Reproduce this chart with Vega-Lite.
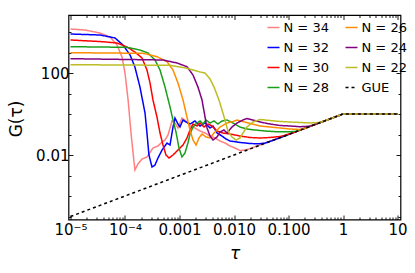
{
  "$schema": "https://vega.github.io/schema/vega-lite/v6.json",
  "width": 332,
  "height": 204.5,
  "autosize": {"type": "none"},
  "padding": {"left": 68.5, "top": 15, "right": 14.5, "bottom": 53.5},
  "config": {
    "font": "DejaVu Sans",
    "view": {"stroke": "black", "strokeWidth": 1.2},
    "legend": {"orient": "none", "legendX": 198, "legendY": 5.5, "columns": 2, "columnPadding": 13, "rowPadding": 6, "symbolType": "stroke", "symbolSize": 144, "symbolStrokeWidth": 1.5, "labelFontSize": 13, "labelOffset": 3, "labelColor": "black", "padding": 0}
  },
  "resolve": {"axis": {"x": "independent", "y": "independent"}},
  "layer": [
    {
      "data": {"values": [
        {"series":"N = 34","tau":1e-5,"G":14000},{"series":"N = 34","tau":1.85e-5,"G":12500},{"series":"N = 34","tau":3.47e-5,"G":8930},{"series":"N = 34","tau":5.31e-5,"G":5700},{"series":"N = 34","tau":7.13e-5,"G":2320},{"series":"N = 34","tau":8.81e-5,"G":603},{"series":"N = 34","tau":1.0e-4,"G":100},{"series":"N = 34","tau":1.14e-4,"G":4.82},{"series":"N = 34","tau":1.29e-4,"G":0.118},{"series":"N = 34","tau":1.40e-4,"G":0.014},{"series":"N = 34","tau":1.52e-4,"G":0.00185},{"series":"N = 34","tau":1.73e-4,"G":0.00364},{"series":"N = 34","tau":2.05e-4,"G":0.00638},{"series":"N = 34","tau":2.53e-4,"G":0.00798},{"series":"N = 34","tau":3.26e-4,"G":0.0219},{"series":"N = 34","tau":4.03e-4,"G":0.0275},{"series":"N = 34","tau":4.58e-4,"G":0.0385},{"series":"N = 34","tau":5.42e-4,"G":0.0539},{"series":"N = 34","tau":6.15e-4,"G":0.0946},{"series":"N = 34","tau":6.70e-4,"G":0.208},{"series":"N = 34","tau":7.28e-4,"G":0.456},{"series":"N = 34","tau":8.26e-4,"G":0.364},{"series":"N = 34","tau":9.38e-4,"G":0.208},{"series":"N = 34","tau":1.11e-3,"G":0.638},{"series":"N = 34","tau":1.32e-3,"G":0.456},{"series":"N = 34","tau":1.56e-3,"G":0.26},{"series":"N = 34","tau":1.92e-3,"G":0.208},{"series":"N = 34","tau":2.38e-3,"G":0.148},{"series":"N = 34","tau":2.94e-3,"G":0.118},{"series":"N = 34","tau":3.63e-3,"G":0.0845},{"series":"N = 34","tau":4.48e-3,"G":0.0675},{"series":"N = 34","tau":5.53e-3,"G":0.0482},{"series":"N = 34","tau":6.84e-3,"G":0.0385},{"series":"N = 34","tau":8.45e-3,"G":0.0275},{"series":"N = 34","tau":1.04e-2,"G":0.0219},{"series":"N = 34","tau":1.29e-2,"G":0.0166},{"series":"N = 34","tau":1.59e-2,"G":0.0175},{"series":"N = 34","tau":1.97e-2,"G":0.0205},{"series":"N = 34","tau":0.03,"G":0.031},{"series":"N = 34","tau":0.05,"G":0.051},{"series":"N = 34","tau":0.08,"G":0.081},{"series":"N = 34","tau":0.12,"G":0.122},{"series":"N = 34","tau":0.2,"G":0.2},{"series":"N = 34","tau":0.35,"G":0.355},{"series":"N = 34","tau":0.6,"G":0.6},{"series":"N = 34","tau":1,"G":1},{"series":"N = 34","tau":1.5,"G":1.02},{"series":"N = 34","tau":2.5,"G":0.98},{"series":"N = 34","tau":4,"G":1.01},{"series":"N = 34","tau":6,"G":0.99},{"series":"N = 34","tau":10,"G":1.0},

        {"series":"N = 32","tau":1e-5,"G":7980},{"series":"N = 32","tau":3.47e-5,"G":7140},{"series":"N = 32","tau":6.56e-5,"G":5100},{"series":"N = 32","tau":9.19e-5,"G":2320},{"series":"N = 32","tau":1.24e-4,"G":755},{"series":"N = 32","tau":1.52e-4,"G":196},{"series":"N = 32","tau":1.88e-4,"G":20.8},{"series":"N = 32","tau":2.33e-4,"G":1.12},{"series":"N = 32","tau":2.53e-4,"G":0.118},{"series":"N = 32","tau":2.75e-4,"G":0.01},{"series":"N = 32","tau":3.13e-4,"G":0.0026},{"series":"N = 32","tau":3.55e-4,"G":0.00325},{"series":"N = 32","tau":4.03e-4,"G":0.00714},{"series":"N = 32","tau":4.78e-4,"G":0.0175},{"series":"N = 32","tau":5.90e-4,"G":0.0385},{"series":"N = 32","tau":6.70e-4,"G":0.0308},{"series":"N = 32","tau":7.60e-4,"G":0.232},{"series":"N = 32","tau":8.26e-4,"G":0.638},{"series":"N = 32","tau":9.38e-4,"G":0.325},{"series":"N = 32","tau":1.02e-3,"G":0.232},{"series":"N = 32","tau":1.16e-3,"G":0.51},{"series":"N = 32","tau":1.32e-3,"G":0.407},{"series":"N = 32","tau":1.56e-3,"G":0.325},{"series":"N = 32","tau":1.92e-3,"G":0.456},{"series":"N = 32","tau":2.38e-3,"G":0.26},{"series":"N = 32","tau":2.94e-3,"G":0.364},{"series":"N = 32","tau":3.63e-3,"G":0.208},{"series":"N = 32","tau":4.12e-3,"G":0.26},{"series":"N = 32","tau":4.88e-3,"G":0.118},{"series":"N = 32","tau":6.02e-3,"G":0.0845},{"series":"N = 32","tau":7.13e-3,"G":0.0603},{"series":"N = 32","tau":8.45e-3,"G":0.0482},{"series":"N = 32","tau":1.29e-2,"G":0.041},{"series":"N = 32","tau":1.97e-2,"G":0.0364},{"series":"N = 32","tau":2.75e-2,"G":0.035},{"series":"N = 32","tau":3.71e-2,"G":0.038},{"series":"N = 32","tau":0.05,"G":0.05},{"series":"N = 32","tau":0.08,"G":0.079},{"series":"N = 32","tau":0.12,"G":0.12},{"series":"N = 32","tau":0.2,"G":0.203},{"series":"N = 32","tau":0.35,"G":0.35},{"series":"N = 32","tau":0.6,"G":0.605},{"series":"N = 32","tau":1,"G":1},{"series":"N = 32","tau":1.5,"G":0.99},{"series":"N = 32","tau":2.5,"G":1.02},{"series":"N = 32","tau":4,"G":0.99},{"series":"N = 32","tau":6,"G":1.01},{"series":"N = 32","tau":10,"G":1.0},

        {"series":"N = 30","tau":1e-5,"G":4070},{"series":"N = 30","tau":3.95e-5,"G":3360},{"series":"N = 30","tau":7.13e-5,"G":2900},{"series":"N = 30","tau":1.09e-4,"G":1850},{"series":"N = 30","tau":1.52e-4,"G":1060},{"series":"N = 30","tau":2.05e-4,"G":540},{"series":"N = 30","tau":2.53e-4,"G":140},{"series":"N = 30","tau":2.88e-4,"G":32.5},{"series":"N = 30","tau":3.26e-4,"G":4.82},{"series":"N = 30","tau":3.86e-4,"G":0.714},{"series":"N = 30","tau":4.39e-4,"G":0.118},{"series":"N = 30","tau":4.98e-4,"G":0.0308},{"series":"N = 30","tau":5.65e-4,"G":0.01},{"series":"N = 30","tau":6.41e-4,"G":0.00714},{"series":"N = 30","tau":7.60e-4,"G":0.01},{"series":"N = 30","tau":9.38e-4,"G":0.0175},{"series":"N = 30","tau":1.16e-3,"G":0.0308},{"series":"N = 30","tau":1.37e-3,"G":0.0675},{"series":"N = 30","tau":1.56e-3,"G":0.166},{"series":"N = 30","tau":1.77e-3,"G":0.325},{"series":"N = 30","tau":2.09e-3,"G":0.26},{"series":"N = 30","tau":2.38e-3,"G":0.364},{"series":"N = 30","tau":2.82e-3,"G":0.232},{"series":"N = 30","tau":3.34e-3,"G":0.325},{"series":"N = 30","tau":3.95e-3,"G":0.26},{"series":"N = 30","tau":4.88e-3,"G":0.148},{"series":"N = 30","tau":6.28e-3,"G":0.118},{"series":"N = 30","tau":8.45e-3,"G":0.106},{"series":"N = 30","tau":1.29e-2,"G":0.0845},{"series":"N = 30","tau":1.97e-2,"G":0.0714},{"series":"N = 30","tau":0.03,"G":0.0675},{"series":"N = 30","tau":4.58e-2,"G":0.0714},{"series":"N = 30","tau":6.98e-2,"G":0.0798},{"series":"N = 30","tau":0.107,"G":0.108},{"series":"N = 30","tau":0.2,"G":0.198},{"series":"N = 30","tau":0.35,"G":0.352},{"series":"N = 30","tau":0.6,"G":0.6},{"series":"N = 30","tau":1,"G":1},{"series":"N = 30","tau":1.5,"G":1.01},{"series":"N = 30","tau":2.5,"G":0.99},{"series":"N = 30","tau":4,"G":1.02},{"series":"N = 30","tau":6,"G":0.98},{"series":"N = 30","tau":10,"G":1.0},

        {"series":"N = 28","tau":1e-5,"G":1920},{"series":"N = 28","tau":1.09e-4,"G":1790},{"series":"N = 28","tau":1.88e-4,"G":1320},{"series":"N = 28","tau":2.64e-4,"G":946},{"series":"N = 28","tau":3.55e-4,"G":431},{"series":"N = 28","tau":4.39e-4,"G":140},{"series":"N = 28","tau":5.42e-4,"G":20.8},{"series":"N = 28","tau":6.70e-4,"G":2.2},{"series":"N = 28","tau":7.60e-4,"G":0.51},{"series":"N = 28","tau":8.63e-4,"G":0.132},{"series":"N = 28","tau":9.79e-4,"G":0.0219},{"series":"N = 28","tau":1.11e-3,"G":0.00798},{"series":"N = 28","tau":1.26e-3,"G":0.0125},{"series":"N = 28","tau":1.43e-3,"G":0.0385},{"series":"N = 28","tau":1.56e-3,"G":0.106},{"series":"N = 28","tau":1.77e-3,"G":0.232},{"series":"N = 28","tau":2.09e-3,"G":0.364},{"series":"N = 28","tau":2.38e-3,"G":0.456},{"series":"N = 28","tau":2.70e-3,"G":0.325},{"series":"N = 28","tau":3.06e-3,"G":0.51},{"series":"N = 28","tau":3.63e-3,"G":0.364},{"series":"N = 28","tau":4.30e-3,"G":0.456},{"series":"N = 28","tau":5.08e-3,"G":0.325},{"series":"N = 28","tau":6.02e-3,"G":0.456},{"series":"N = 28","tau":7.44e-3,"G":0.51},{"series":"N = 28","tau":9.59e-3,"G":0.364},{"series":"N = 28","tau":1.29e-2,"G":0.232},{"series":"N = 28","tau":1.73e-2,"G":0.185},{"series":"N = 28","tau":2.43e-2,"G":0.166},{"series":"N = 28","tau":3.71e-2,"G":0.148},{"series":"N = 28","tau":5.65e-2,"G":0.138},{"series":"N = 28","tau":8.63e-2,"G":0.135},{"series":"N = 28","tau":0.132,"G":0.14},{"series":"N = 28","tau":0.2,"G":0.202},{"series":"N = 28","tau":0.35,"G":0.348},{"series":"N = 28","tau":0.6,"G":0.6},{"series":"N = 28","tau":1,"G":1},{"series":"N = 28","tau":1.5,"G":0.99},{"series":"N = 28","tau":2.5,"G":1.01},{"series":"N = 28","tau":4,"G":0.99},{"series":"N = 28","tau":6,"G":1.01},{"series":"N = 28","tau":10,"G":1.0},

        {"series":"N = 26","tau":1e-5,"G":978},{"series":"N = 26","tau":2.14e-4,"G":914},{"series":"N = 26","tau":3.86e-4,"G":624},{"series":"N = 26","tau":5.90e-4,"G":356},{"series":"N = 26","tau":7.60e-4,"G":140},{"series":"N = 26","tau":9.38e-4,"G":32.5},{"series":"N = 26","tau":1.16e-3,"G":4.82},{"series":"N = 26","tau":1.37e-3,"G":0.714},{"series":"N = 26","tau":1.56e-3,"G":0.166},{"series":"N = 26","tau":1.77e-3,"G":0.0539},{"series":"N = 26","tau":2.01e-3,"G":0.0308},{"series":"N = 26","tau":2.28e-3,"G":0.0675},{"series":"N = 26","tau":2.59e-3,"G":0.106},{"series":"N = 26","tau":3.06e-3,"G":0.0755},{"series":"N = 26","tau":3.63e-3,"G":0.0675},{"series":"N = 26","tau":4.30e-3,"G":0.118},{"series":"N = 26","tau":5.53e-3,"G":0.232},{"series":"N = 26","tau":7.44e-3,"G":0.364},{"series":"N = 26","tau":9.59e-3,"G":0.431},{"series":"N = 26","tau":1.14e-2,"G":0.51},{"series":"N = 26","tau":1.59e-2,"G":0.407},{"series":"N = 26","tau":1.97e-2,"G":0.344},{"series":"N = 26","tau":0.03,"G":0.26},{"series":"N = 26","tau":4.58e-2,"G":0.232},{"series":"N = 26","tau":6.98e-2,"G":0.208},{"series":"N = 26","tau":0.107,"G":0.185},{"series":"N = 26","tau":0.163,"G":0.175},{"series":"N = 26","tau":0.2,"G":0.205},{"series":"N = 26","tau":0.35,"G":0.35},{"series":"N = 26","tau":0.6,"G":0.6},{"series":"N = 26","tau":1,"G":1},{"series":"N = 26","tau":1.5,"G":1.01},{"series":"N = 26","tau":2.5,"G":0.99},{"series":"N = 26","tau":4,"G":1.0},{"series":"N = 26","tau":6,"G":1.01},{"series":"N = 26","tau":10,"G":1.0},

        {"series":"N = 24","tau":1e-5,"G":499},{"series":"N = 24","tau":4.98e-4,"G":431},{"series":"N = 24","tau":8.99e-4,"G":308},{"series":"N = 24","tau":1.37e-3,"G":203},{"series":"N = 24","tau":1.77e-3,"G":79.9},{"series":"N = 24","tau":2.18e-3,"G":20.8},{"series":"N = 24","tau":2.59e-3,"G":4.82},{"series":"N = 24","tau":2.94e-3,"G":0.714},{"series":"N = 24","tau":3.20e-3,"G":0.208},{"series":"N = 24","tau":3.63e-3,"G":0.0845},{"series":"N = 24","tau":4.12e-3,"G":0.0539},{"series":"N = 24","tau":4.88e-3,"G":0.0755},{"series":"N = 24","tau":5.53e-3,"G":0.132},{"series":"N = 24","tau":6.56e-3,"G":0.166},{"series":"N = 24","tau":7.44e-3,"G":0.118},{"series":"N = 24","tau":9.19e-3,"G":0.232},{"series":"N = 24","tau":1.14e-2,"G":0.364},{"series":"N = 24","tau":1.46e-2,"G":0.51},{"series":"N = 24","tau":1.73e-2,"G":0.603},{"series":"N = 24","tau":2.43e-2,"G":0.482},{"series":"N = 24","tau":0.03,"G":0.407},{"series":"N = 24","tau":4.58e-2,"G":0.325},{"series":"N = 24","tau":6.98e-2,"G":0.275},{"series":"N = 24","tau":0.107,"G":0.26},{"series":"N = 24","tau":0.163,"G":0.24},{"series":"N = 24","tau":0.248,"G":0.255},{"series":"N = 24","tau":0.35,"G":0.352},{"series":"N = 24","tau":0.6,"G":0.6},{"series":"N = 24","tau":1,"G":1},{"series":"N = 24","tau":1.5,"G":1.0},{"series":"N = 24","tau":2.5,"G":1.01},{"series":"N = 24","tau":4,"G":0.99},{"series":"N = 24","tau":6,"G":1.0},{"series":"N = 24","tau":10,"G":1.0},

        {"series":"N = 22","tau":1e-5,"G":254},{"series":"N = 22","tau":6.70e-4,"G":238},{"series":"N = 22","tau":1.37e-3,"G":170},{"series":"N = 22","tau":2.38e-3,"G":112},{"series":"N = 22","tau":2.94e-3,"G":100},{"series":"N = 22","tau":3.63e-3,"G":51},{"series":"N = 22","tau":4.30e-3,"G":20.8},{"series":"N = 22","tau":5.30e-3,"G":4.82},{"series":"N = 22","tau":6.42e-3,"G":0.894},{"series":"N = 22","tau":7.76e-3,"G":0.148},{"series":"N = 22","tau":9.19e-3,"G":0.0755},{"series":"N = 22","tau":1.09e-2,"G":0.0539},{"series":"N = 22","tau":1.29e-2,"G":0.0675},{"series":"N = 22","tau":1.46e-2,"G":0.118},{"series":"N = 22","tau":1.73e-2,"G":0.232},{"series":"N = 22","tau":2.23e-2,"G":0.407},{"series":"N = 22","tau":0.03,"G":0.539},{"series":"N = 22","tau":4.58e-2,"G":0.482},{"series":"N = 22","tau":6.98e-2,"G":0.431},{"series":"N = 22","tau":0.107,"G":0.407},{"series":"N = 22","tau":0.163,"G":0.385},{"series":"N = 22","tau":0.248,"G":0.364},{"series":"N = 22","tau":0.378,"G":0.385},{"series":"N = 22","tau":0.6,"G":0.6},{"series":"N = 22","tau":1,"G":1},{"series":"N = 22","tau":1.5,"G":1.0},{"series":"N = 22","tau":2.5,"G":1.0},{"series":"N = 22","tau":4,"G":1.01},{"series":"N = 22","tau":6,"G":0.99},{"series":"N = 22","tau":10,"G":1.0},

        {"series":"GUE","tau":1e-5,"G":1e-5},{"series":"GUE","tau":1,"G":1},{"series":"GUE","tau":10,"G":1}
      ]},
      "mark": {"type": "line", "strokeWidth": 1.5, "clip": true},
      "encoding": {
        "x": {"field": "tau", "type": "quantitative",
          "scale": {"type": "log", "domain": [9.19e-6, 11.35], "nice": false},
          "axis": {"orient": "bottom", "domain": false, "grid": false,
            "values": [0.00001,0.00002,0.00003,0.00004,0.00005,0.00006,0.00007,0.00008,0.00009,0.0001,0.0002,0.0003,0.0004,0.0005,0.0006,0.0007,0.0008,0.0009,0.001,0.002,0.003,0.004,0.005,0.006,0.007,0.008,0.009,0.01,0.02,0.03,0.04,0.05,0.06,0.07,0.08,0.09,0.1,0.2,0.3,0.4,0.5,0.6,0.7,0.8,0.9,1,2,3,4,5,6,7,8,9,10],
            "labelExpr": "datum.value == 0.00001 ? '10⁻⁵' : datum.value == 0.0001 ? '10⁻⁴' : datum.value == 0.001 ? '0.001' : datum.value == 0.01 ? '0.010' : datum.value == 0.1 ? '0.100' : datum.value == 1 ? '1' : datum.value == 10 ? '10' : ''",
            "labelFontSize": 15, "labelColor": "black", "labelPadding": 7, "labelOverlap": false, "labelFlush": false, "labelBound": false,
            "tickSize": {"condition": {"test": "abs(log(datum.value)/LN10 - round(log(datum.value)/LN10)) < 0.01", "value": -4.5}, "value": -2.5},
            "tickColor": "black", "tickWidth": 0.9,
            "title": "τ", "titleFontSize": 17, "titleFontStyle": "italic", "titleFontWeight": "normal", "titleColor": "black", "titleY": 34, "titleBaseline": "middle"}},
        "y": {"field": "G", "type": "quantitative",
          "scale": {"type": "log", "domain": [7.14e-6, 67500], "nice": false},
          "axis": {"orient": "left", "domain": false, "grid": false,
            "values": [0.00001,0.0001,0.001,0.01,0.1,1,10,100,1000,10000],
            "labelExpr": "datum.value == 100 ? '100' : datum.value == 0.01 ? '0.01' : ''",
            "labelFontSize": 15, "labelColor": "black", "labelPadding": 4, "labelOverlap": false, "labelFlush": false, "labelBound": false,
            "tickSize": {"condition": {"test": "datum.value == 100 || datum.value == 0.01", "value": -4.5}, "value": -2.5},
            "tickColor": "black", "tickWidth": 0.9,
            "title": "G(τ)", "titleFontSize": 17, "titleFontWeight": "normal", "titleColor": "black", "titleX": -52, "titleY": 103.5, "titleAngle": -90, "titleAlign": "center", "titleBaseline": "middle"}},
        "color": {"field": "series", "type": "nominal",
          "scale": {"domain": ["N = 34","N = 32","N = 30","N = 28","N = 26","N = 24","N = 22","GUE"],
                    "range": ["#ff8080","#0000ff","#ff0000","#1a9f1a","#ff8c00","#800080","#bcbd22","#000000"]},
          "legend": {"title": null}},
        "strokeDash": {"field": "series", "type": "nominal",
          "scale": {"domain": ["N = 34","N = 32","N = 30","N = 28","N = 26","N = 24","N = 22","GUE"],
                    "range": [[1,0],[1,0],[1,0],[1,0],[1,0],[1,0],[1,0],[3,3]]},
          "legend": {"title": null}}
      }
    },
    {
      "data": {"values": [{"tau": 1, "G": 1}]},
      "mark": {"type": "point", "opacity": 0},
      "encoding": {
        "x": {"field": "tau", "type": "quantitative",
          "scale": {"type": "log", "domain": [9.19e-6, 11.35], "nice": false},
          "axis": {"orient": "top", "domain": false, "grid": false, "labels": false, "title": null,
            "values": [0.00001,0.00002,0.00003,0.00004,0.00005,0.00006,0.00007,0.00008,0.00009,0.0001,0.0002,0.0003,0.0004,0.0005,0.0006,0.0007,0.0008,0.0009,0.001,0.002,0.003,0.004,0.005,0.006,0.007,0.008,0.009,0.01,0.02,0.03,0.04,0.05,0.06,0.07,0.08,0.09,0.1,0.2,0.3,0.4,0.5,0.6,0.7,0.8,0.9,1,2,3,4,5,6,7,8,9,10],
            "tickSize": {"condition": {"test": "abs(log(datum.value)/LN10 - round(log(datum.value)/LN10)) < 0.01", "value": -4.5}, "value": -2.5},
            "tickColor": "black", "tickWidth": 0.9}},
        "y": {"field": "G", "type": "quantitative",
          "scale": {"type": "log", "domain": [7.14e-6, 67500], "nice": false},
          "axis": {"orient": "right", "domain": false, "grid": false, "labels": false, "title": null,
            "values": [0.00001,0.0001,0.001,0.01,0.1,1,10,100,1000,10000],
            "tickSize": {"condition": {"test": "datum.value == 100 || datum.value == 0.01", "value": -4.5}, "value": -2.5},
            "tickColor": "black", "tickWidth": 0.9}}
      }
    }
  ]
}
